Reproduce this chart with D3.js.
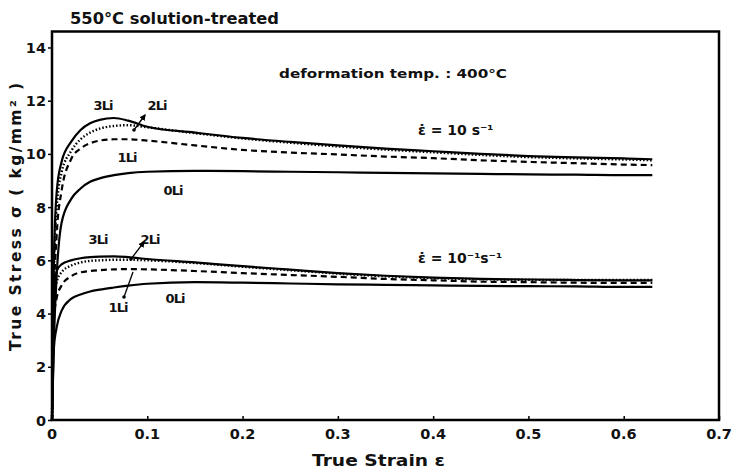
<!DOCTYPE html>
<html><head><meta charset="utf-8">
<script src="https://cdn.jsdelivr.net/npm/d3@7"></script>
<style>
body{margin:0;background:#fff;}
svg text{font-family:"DejaVu Sans",sans-serif;font-weight:bold;fill:#111;}
</style></head>
<body><svg id="c" width="734" height="470"></svg>
<script>
// ---- data ----
const strain = [0, 0.002, 0.005, 0.01, 0.02, 0.03, 0.04, 0.05, 0.065, 0.08, 0.1, 0.15, 0.2, 0.25, 0.3, 0.35, 0.4, 0.45, 0.5, 0.55, 0.6, 0.63];
// strain rate 10 s^-1
const fast3Li = [0, 6.0, 8.6, 9.7, 10.45, 10.9, 11.15, 11.28, 11.35, 11.25, 11.02, 10.8, 10.6, 10.45, 10.32, 10.2, 10.1, 10.0, 9.92, 9.87, 9.83, 9.8];
const fast2Li = [0, 5.5, 8.0, 9.3, 10.1, 10.55, 10.8, 10.95, 11.05, 11.08, 11.0, 10.78, 10.58, 10.42, 10.28, 10.16, 10.06, 9.96, 9.88, 9.83, 9.79, 9.76];
const fast1Li = [0, 4.5, 7.0, 8.6, 9.8, 10.2, 10.4, 10.5, 10.55, 10.55, 10.5, 10.32, 10.15, 10.05, 9.98, 9.9, 9.84, 9.76, 9.7, 9.65, 9.6, 9.58];
const fast0Li = [0, 3.0, 5.5, 7.4, 8.3, 8.7, 8.95, 9.08, 9.2, 9.28, 9.33, 9.36, 9.35, 9.33, 9.31, 9.29, 9.27, 9.25, 9.23, 9.22, 9.2, 9.2];
// strain rate 10^-1 s^-1
const slow3Li = [0, 4.8, 5.6, 5.85, 6.0, 6.08, 6.12, 6.14, 6.15, 6.12, 6.05, 5.92, 5.78, 5.65, 5.52, 5.42, 5.35, 5.3, 5.28, 5.26, 5.25, 5.25];
const slow2Li = [0, 4.3, 5.2, 5.55, 5.8, 5.92, 5.98, 6.0, 6.02, 6.02, 6.0, 5.9, 5.76, 5.63, 5.5, 5.4, 5.33, 5.29, 5.27, 5.26, 5.26, 5.26];
const slow1Li = [0, 3.8, 4.6, 5.05, 5.4, 5.55, 5.6, 5.63, 5.66, 5.67, 5.66, 5.6, 5.52, 5.45, 5.38, 5.3, 5.25, 5.2, 5.18, 5.16, 5.15, 5.15];
const slow0Li = [0, 2.7, 3.5, 4.1, 4.55, 4.72, 4.83, 4.9, 4.98, 5.05, 5.12, 5.18, 5.16, 5.13, 5.1, 5.08, 5.06, 5.04, 5.03, 5.02, 5.0, 5.0];
const xTicks = [0, 0.1, 0.2, 0.3, 0.4, 0.5, 0.6, 0.7];
const yTicks = [0, 2, 4, 6, 8, 10, 12, 14];

// ---- drawing ----
const svg = d3.select("#c");
const x = d3.scaleLinear().domain([0, 0.7]).range([52, 719]);
const y = d3.scaleLinear().domain([0, 14.6]).range([420, 31.5]);

// frame
svg.append("rect").attr("x", x(0)).attr("y", y(14.6)).attr("width", x(0.7) - x(0)).attr("height", y(0) - y(14.6))
  .attr("fill", "none").attr("stroke", "#000").attr("stroke-width", 2.5);

// axes
const xa = svg.append("g").attr("transform", `translate(0,${y(0)})`)
  .call(d3.axisTop(x).tickValues(xTicks).tickSize(4).tickFormat(""));
xa.select(".domain").remove();
xa.selectAll("line").attr("stroke-width", 1.5);
svg.append("g").selectAll("text").data(xTicks).join("text")
  .attr("x", d => x(d)).attr("y", 439).attr("text-anchor", "middle").attr("font-size", 14.5)
  .text(d => d === 0 ? "0" : d3.format(".1f")(d));

const ya = svg.append("g").attr("transform", `translate(${x(0)},0)`)
  .call(d3.axisLeft(y).tickValues(yTicks).tickSize(4).tickFormat(""));
ya.select(".domain").remove();
ya.selectAll("line").attr("stroke-width", 1.5);
svg.append("g").selectAll("text").data(yTicks).join("text")
  .attr("x", 46).attr("y", d => y(d) + 5.5).attr("text-anchor", "end").attr("font-size", 14.5)
  .text(d => d);

// curves
const line = d3.line().x((d, i) => x(strain[i])).y(d => y(d)).curve(d3.curveMonotoneX);
const series = [
  {v: fast0Li, dash: null, w: 2.2},
  {v: fast1Li, dash: "6,4", w: 2.2},
  {v: fast2Li, dash: "1.5,2", w: 2.4},
  {v: fast3Li, dash: null, w: 2.2},
  {v: slow0Li, dash: null, w: 2.2},
  {v: slow1Li, dash: "6,4", w: 2.2},
  {v: slow2Li, dash: "1.5,2", w: 2.4},
  {v: slow3Li, dash: null, w: 2.2}
];
svg.append("g").selectAll("path").data(series).join("path")
  .attr("d", d => line(d.v)).attr("fill", "none").attr("stroke", "#000")
  .attr("stroke-width", d => d.w).attr("stroke-dasharray", d => d.dash);

// texts
svg.append("text").attr("x", 70).attr("y", 24).attr("font-size", 16).attr("textLength", 209)
  .attr("lengthAdjust", "spacingAndGlyphs").text("550°C  solution-treated");
svg.append("text").attr("x", 279).attr("y", 78).attr("font-size", 13).attr("textLength", 228)
  .attr("lengthAdjust", "spacingAndGlyphs").text("deformation temp. : 400°C");
svg.append("text").attr("x", 418).attr("y", 135).attr("font-size", 14).text("ε̇ = 10 s⁻¹");
svg.append("text").attr("x", 418).attr("y", 263).attr("font-size", 14).text("ε̇ = 10⁻¹s⁻¹");

svg.append("text").attr("x", 312).attr("y", 466).attr("font-size", 15.5).attr("textLength", 133)
  .attr("lengthAdjust", "spacingAndGlyphs").text("True Strain ε");
svg.append("text").attr("transform", "translate(21,351) rotate(-90)").attr("font-size", 15.5).attr("textLength", 268)
  .text("True Stress σ ( kg/mm² )");

// curve labels
const labs = [
  ["3Li", 103, 110], ["2Li", 157, 110], ["1Li", 127, 162], ["0Li", 173, 195],
  ["3Li", 98, 244], ["2Li", 150, 244], ["1Li", 118, 312], ["0Li", 175, 303]
];
svg.append("g").selectAll("text").data(labs).join("text")
  .attr("x", d => d[1]).attr("y", d => d[2]).attr("text-anchor", "middle").attr("font-size", 13)
  .attr("letter-spacing", -1).text(d => d[0]);

// pointers
svg.append("defs").append("marker").attr("id", "ah").attr("viewBox", "0 0 10 10").attr("refX", 8).attr("refY", 5)
  .attr("markerWidth", 5).attr("markerHeight", 5).attr("orient", "auto")
  .append("path").attr("d", "M0,0L10,5L0,10z").attr("fill", "#000");
const ptr = [[134, 130, 145, 115, true], [131, 259, 144, 242, true], [124, 297, 133, 272, false]];
svg.append("g").selectAll("line").data(ptr).join("line")
  .attr("x1", d => d[0]).attr("y1", d => d[1]).attr("x2", d => d[2]).attr("y2", d => d[3])
  .attr("stroke", "#000").attr("stroke-width", 1.3).attr("marker-end", d => d[4] ? "url(#ah)" : null);
svg.append("g").selectAll("circle").data(ptr).join("circle")
  .attr("cx", d => d[0]).attr("cy", d => d[1]).attr("r", 1.8).attr("fill", "#000");
</script></body></html>
